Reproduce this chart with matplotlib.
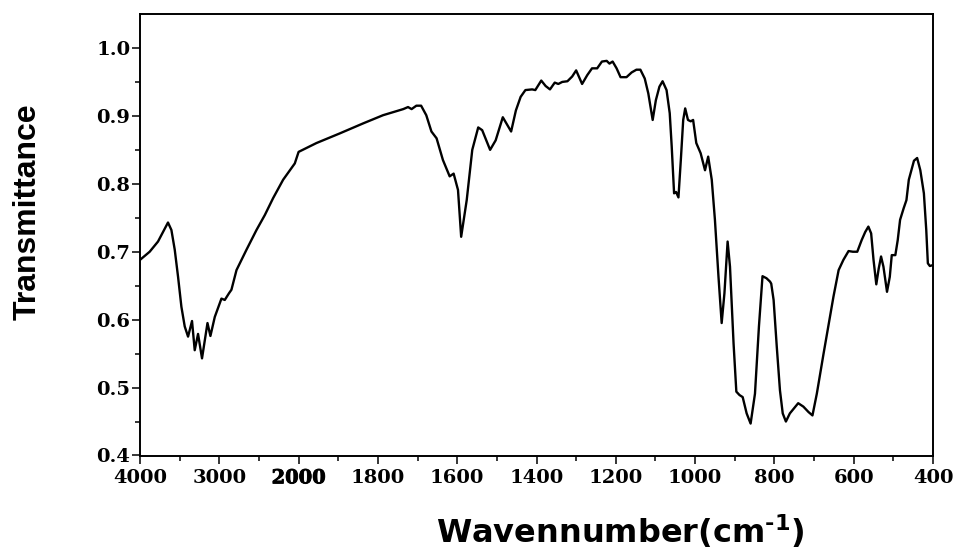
import numpy as np
import matplotlib
matplotlib.use("Agg")
import matplotlib.pyplot as plt
import matplotlib.patheffects as pe
from matplotlib.ticker import FixedLocator, FuncFormatter

# FTIR spectrum (wavenumber in cm-1, transmittance)
wavenumber = [
    4000, 3878, 3773, 3688, 3647, 3604, 3562, 3520, 3478, 3436,
    3394, 3344, 3310, 3268, 3218, 3149, 3112, 3057, 2973, 2931,
    2877, 2847, 2783, 2657, 2531, 2426, 2321, 2195, 2048, 2000,
    1955, 1897, 1837, 1787, 1736, 1724, 1715, 1703, 1691, 1678,
    1665, 1652, 1636, 1619, 1609, 1598, 1590, 1576, 1562, 1547,
    1537, 1517, 1503, 1485, 1464, 1452, 1440, 1428, 1411, 1403,
    1388, 1377, 1366, 1354, 1345, 1335, 1322, 1310, 1300, 1285,
    1272, 1260, 1247, 1235, 1223, 1216, 1208, 1198, 1188, 1173,
    1160, 1148, 1138, 1127, 1118, 1107, 1099, 1090, 1082, 1072,
    1064, 1059, 1053, 1048, 1042, 1036, 1030, 1025, 1018, 1011,
    1005, 997, 986, 975, 967, 958, 950, 941, 933, 926,
    918, 912, 903, 896, 888, 880, 870, 860, 849, 839,
    830, 820, 811, 808, 802, 794, 786, 779, 771, 761,
    740, 727, 714, 704, 693, 676, 664, 651, 638, 626,
    613, 602, 591, 580, 571, 563, 556, 550, 543, 537,
    531, 525, 516, 509, 504, 495, 489, 483, 474, 467,
    461, 448, 440, 432, 423, 417, 413, 408, 402,
]
transmittance = [
    0.688, 0.700, 0.715, 0.734, 0.743, 0.732, 0.703, 0.663, 0.619, 0.590,
    0.575, 0.598, 0.555, 0.579, 0.543, 0.595, 0.576, 0.604, 0.631, 0.629,
    0.639, 0.644, 0.673, 0.703, 0.732, 0.754, 0.779, 0.806, 0.830, 0.847,
    0.860, 0.874, 0.889, 0.901, 0.910, 0.913, 0.910, 0.915, 0.915, 0.901,
    0.877, 0.867, 0.835, 0.811, 0.815, 0.791, 0.722, 0.776, 0.850, 0.883,
    0.879, 0.850, 0.864, 0.898, 0.877, 0.908, 0.928, 0.938, 0.939, 0.938,
    0.952, 0.944, 0.939, 0.949, 0.947, 0.950, 0.951, 0.958, 0.967, 0.947,
    0.960, 0.970, 0.970, 0.980, 0.981, 0.977, 0.980, 0.970, 0.957, 0.957,
    0.964, 0.968, 0.968, 0.955, 0.933, 0.894, 0.923, 0.943, 0.951, 0.938,
    0.904, 0.855, 0.786, 0.788, 0.780, 0.835, 0.894, 0.911, 0.894, 0.892,
    0.894, 0.860, 0.845, 0.820, 0.840, 0.806, 0.747, 0.663, 0.595, 0.639,
    0.715, 0.678, 0.565, 0.494, 0.489, 0.486, 0.462, 0.447, 0.491, 0.590,
    0.664, 0.661, 0.656, 0.653, 0.629, 0.560, 0.496, 0.462, 0.450, 0.462,
    0.477, 0.472, 0.464, 0.459, 0.491, 0.550, 0.590, 0.634, 0.673, 0.688,
    0.701, 0.700, 0.700, 0.717, 0.729, 0.737, 0.727, 0.688, 0.652, 0.675,
    0.693, 0.678, 0.641, 0.663, 0.695, 0.695, 0.717, 0.747, 0.764, 0.776,
    0.806, 0.834, 0.838, 0.820, 0.786, 0.732, 0.683, 0.679, 0.680,
]

major_ticks = [4000, 3000, 2000, 1800, 1600, 1400, 1200, 1000, 800, 600, 400]
minor_ticks = [3500, 2500, 1900, 1700, 1500, 1300, 1100, 900, 700, 500]
y_major = [0.4, 0.5, 0.6, 0.7, 0.8, 0.9, 1.0]
y_minor = [0.45, 0.55, 0.65, 0.75, 0.85, 0.95]


# broken axis: 4000-2000 compressed (1000 per division), below 2000 200 per division
def fwd(w):
    w = np.asarray(w, dtype=float)
    return np.where(w <= 2000, w / 200.0, 10 + (w - 2000) / 1000.0)


def inv(p):
    p = np.asarray(p, dtype=float)
    return np.where(p <= 10, p * 200.0, 2000 + (p - 10) * 1000.0)


plt.rcParams['mathtext.fontset'] = 'custom'
plt.rcParams['mathtext.rm'] = 'DejaVu Sans:bold'
plt.rcParams['mathtext.bf'] = 'DejaVu Sans:bold'

fig = plt.figure(figsize=(9.57, 5.56), dpi=100)
ax = fig.add_axes([140 / 957, 1 - 455.5 / 556, (933 - 140) / 957, (455.5 - 14) / 556])

ax.set_xscale('function', functions=(fwd, inv))
ax.plot(wavenumber, transmittance, color='black', lw=1.7,
        solid_joinstyle='round', solid_capstyle='round')

ax.set_xlim(4000, 400)
ax.set_ylim(0.4, 1.05)

ax.xaxis.set_major_locator(FixedLocator(major_ticks))
ax.xaxis.set_minor_locator(FixedLocator(minor_ticks))
ax.xaxis.set_major_formatter(FuncFormatter(lambda v, pos: f"{v:.0f}"))
ax.xaxis.set_minor_formatter(FuncFormatter(lambda v, pos: ""))
ax.yaxis.set_major_locator(FixedLocator(y_major))
ax.yaxis.set_minor_locator(FixedLocator(y_minor))
ax.yaxis.set_major_formatter(FuncFormatter(lambda v, pos: f"{v:.1f}"))

for s in ax.spines.values():
    s.set_linewidth(1.4)

ax.tick_params(which='major', direction='out', length=6, width=1.1)
ax.tick_params(which='minor', direction='out', length=3.6, width=1.1)
ax.tick_params(axis='x', which='major', pad=4)
ax.tick_params(axis='y', which='major', pad=1)

for lab in ax.get_xticklabels() + ax.get_yticklabels():
    lab.set_fontfamily('DejaVu Serif')
    lab.set_fontweight('bold')
    lab.set_fontsize(14)

# the 2000 label is printed heavier in the original
for lab in ax.get_xticklabels():
    if lab.get_text() == '2000':
        lab.set_path_effects([pe.withStroke(linewidth=0.6, foreground='black')])

fig.text(620 / 957, 1 - 543 / 556, r'Wavennumber(cm$^{\text{-1}}$)',
         fontsize=23, fontweight='bold', family='DejaVu Sans',
         ha='center', va='baseline')
fig.text(28 / 957, 1 - 212 / 556, 'Transmittance', rotation=90,
         fontsize=23, fontweight='bold', family='Liberation Sans',
         ha='center', va='center')

fig.savefig('out.png', dpi=100)
